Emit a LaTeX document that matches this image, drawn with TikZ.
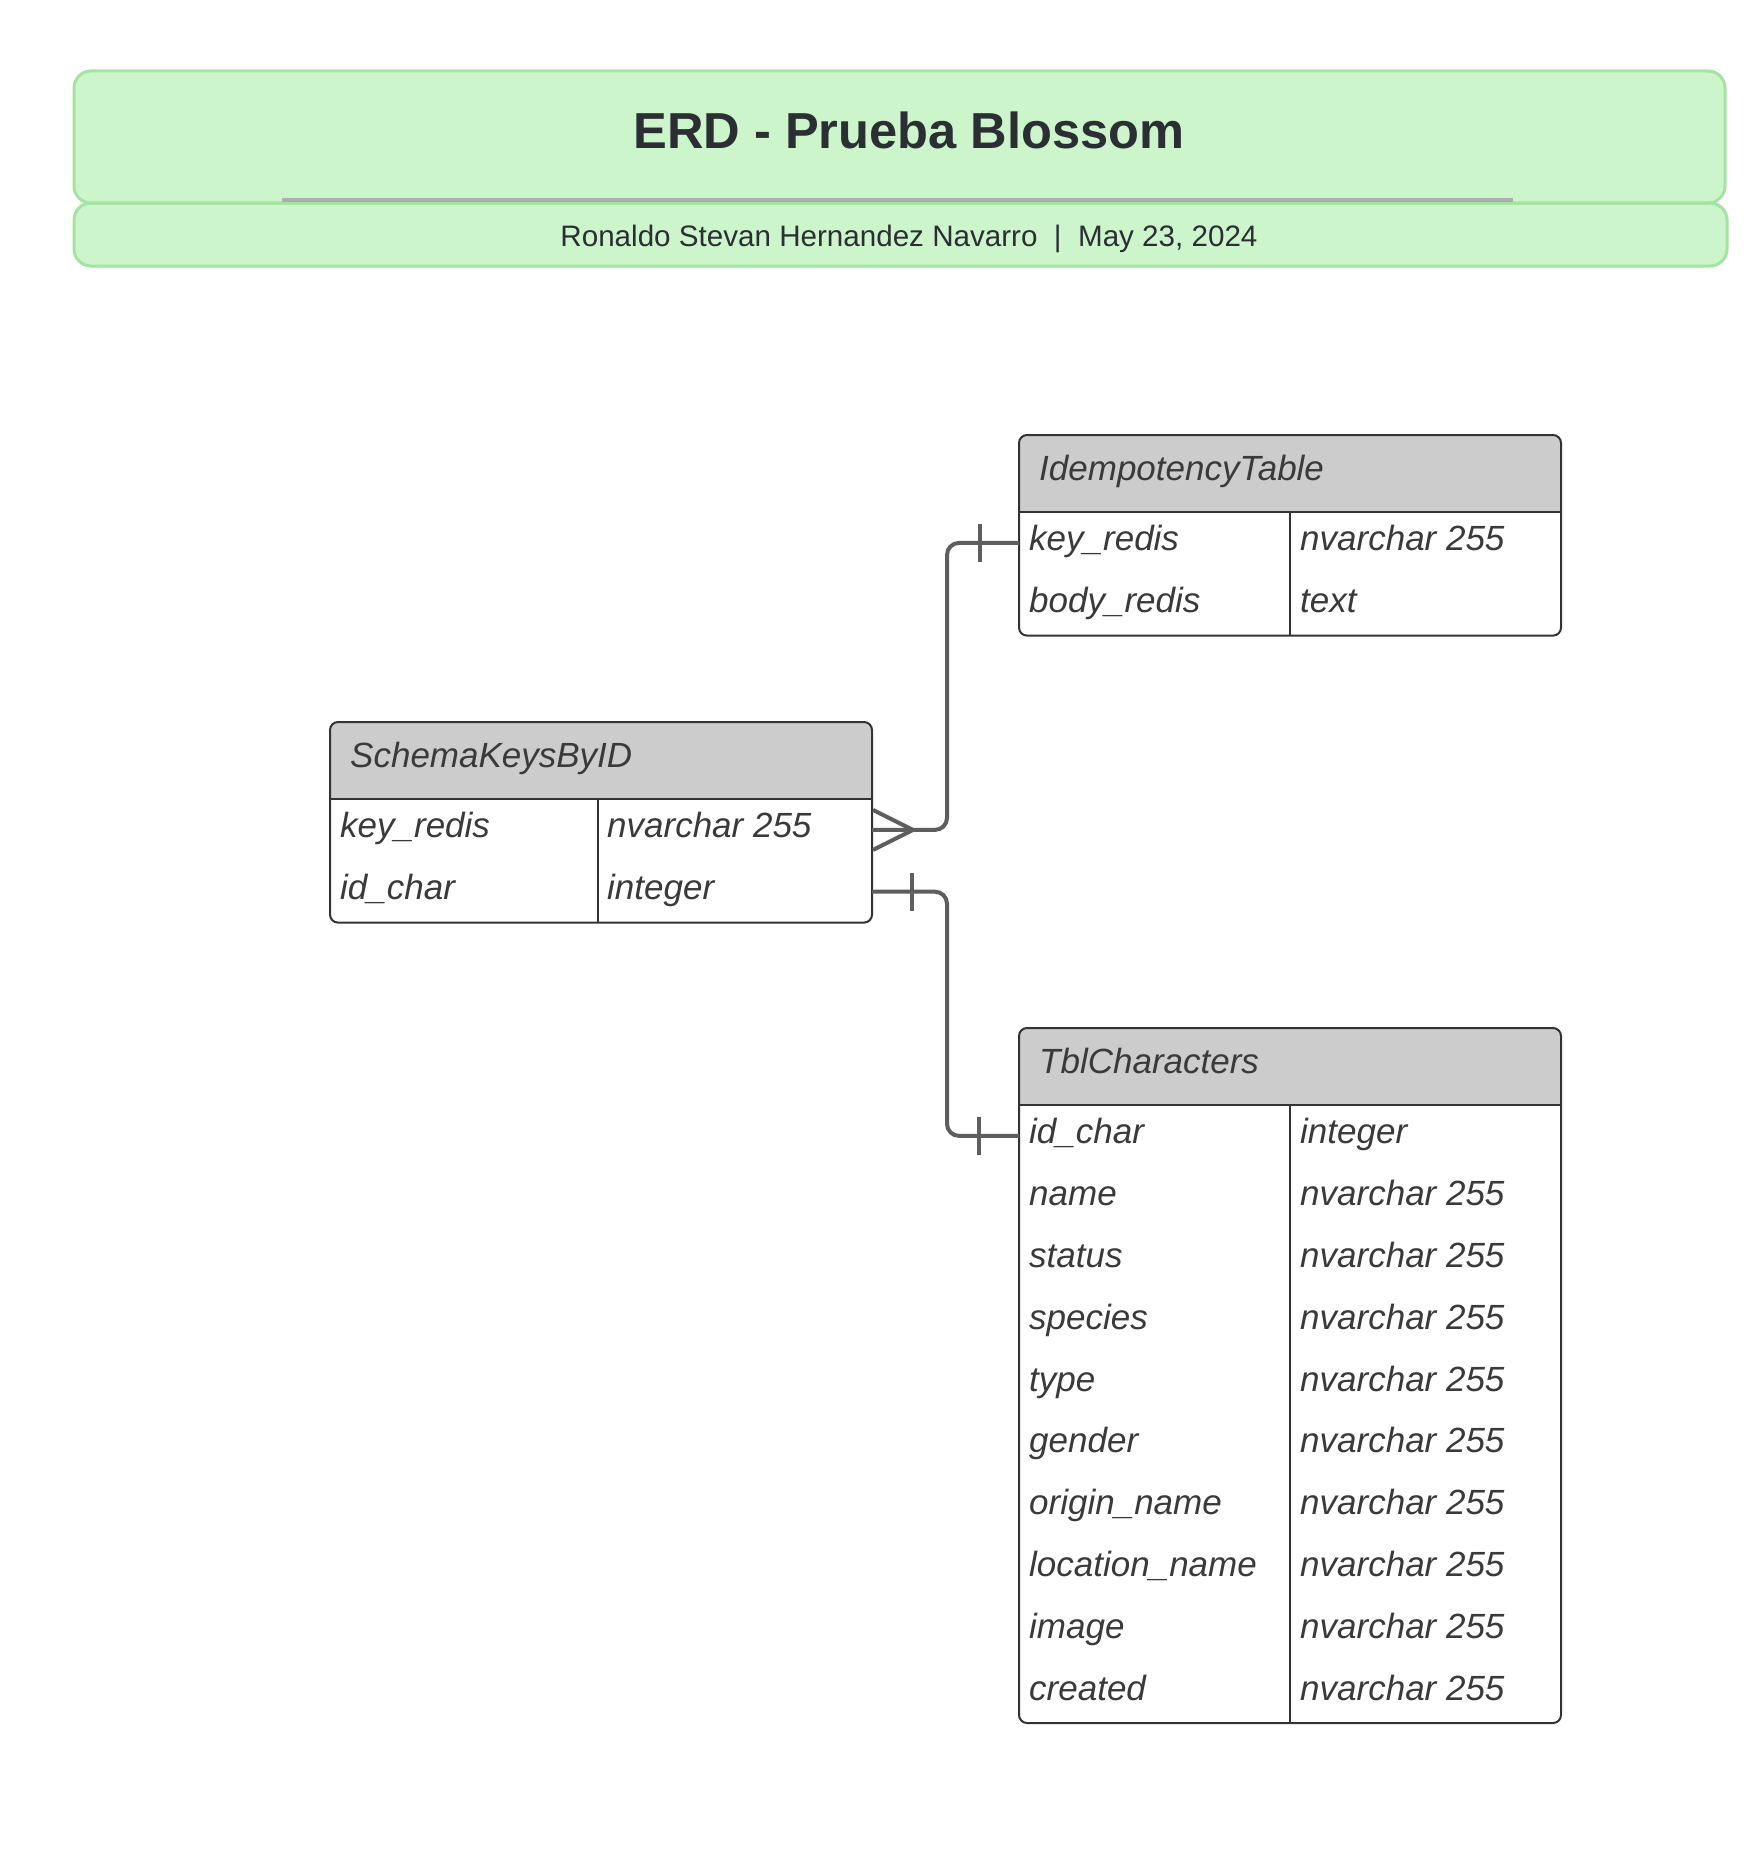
\documentclass[tikz,border=0pt]{standalone}
\usepackage{fontspec}
\setmainfont{Liberation Sans}
\usetikzlibrary{calc}
\definecolor{titlefill}{HTML}{CCF5CC}
\definecolor{titledraw}{HTML}{A3E4A0}
\definecolor{rulegray}{HTML}{ABADB1}
\definecolor{ink}{HTML}{2B2E33}
\definecolor{fieldink}{HTML}{3A3A3A}
\definecolor{hdrfill}{HTML}{CCCCCC}
\definecolor{tblborder}{HTML}{333333}
\definecolor{conn}{HTML}{5E5E5E}
\tikzset{
  bannerbox/.style={draw=titledraw, fill=titlefill, line width=3pt, rounded corners=17pt,
    rectangle, inner sep=0pt, outer sep=0pt, anchor=north west},
  titletxt/.style={font=\bfseries\fontsize{50.6}{60}\selectfont, text=ink, anchor=base, inner sep=0pt},
  subtxt/.style={font=\fontsize{29.6}{36}\selectfont, text=ink, anchor=base, inner sep=0pt},
  tblframe/.style={rectangle, fill=white, minimum width=542pt, inner sep=0pt, outer sep=0pt, anchor=north west},
  tblline/.style={draw=tblborder, line width=2pt},
  hdrtxt/.style={font=\itshape\fontsize{35}{42}\selectfont, text=fieldink, anchor=base west, inner sep=0pt},
  rowbox/.style={rectangle, minimum width=542pt, minimum height=61.8pt, inner sep=0pt, outer sep=0pt, anchor=north west},
  fieldtxt/.style={font=\itshape\fontsize{35}{42}\selectfont, text=fieldink, anchor=base west, inner sep=0pt},
  connline/.style={draw=conn, line width=4pt},
}
% #1 name, #2 left, #3 top, #4 rows, #5 title, #6 column split offset
\newcommand{\ErdFrame}[6]{%
  \node[tblframe, minimum height={77pt+#4*61.8pt}] (#1) at (#2,#3) {};
  \begin{scope}
    \clip[rounded corners=8pt] (#1.north west) rectangle (#1.south east);
    \fill[hdrfill] (#1.north west) rectangle ($(#1.north east)+(0,77)$);
  \end{scope}
  \draw[tblline] ($(#1.north west)+(0,77)$) -- ($(#1.north east)+(0,77)$);
  \draw[tblline] ($(#1.north west)+(#6,77)$) -- ($(#1.south west)+(#6,0)$);
  \draw[tblline, rounded corners=8pt] (#1.north west) rectangle (#1.south east);
  \node[hdrtxt] (#1hdr) at ($(#1.north west)+(20,45.5)$) {#5};
}
\begin{document}
\begin{tikzpicture}[x=1pt,y=-1pt]
\useasboundingbox (0,0) rectangle (1750,1854);
\fill[white] (0,0) rectangle (1750,1854);

% banner
\node[bannerbox, minimum width=1653pt, minimum height=63pt] (subbox) at (74,203) {};
\node[bannerbox, minimum width=1651pt, minimum height=132pt] (titlebox) at (74,71) {};
\draw[rulegray, line width=3.5pt] (282,200) -- (1513,200);
\node[titletxt] (titletext) at (909,149) {ERD - Prueba Blossom};
\node[subtxt] (subtext) at (909,246) {Ronaldo Stevan Hernandez Navarro~~|~~May 23, 2024};

% tables
\ErdFrame{idem}{1019}{435}{2}{IdempotencyTable}{271}
\ErdFrame{schema}{330}{722}{2}{SchemaKeysByID}{268}
\ErdFrame{tbl}{1019}{1028}{10}{TblCharacters}{271}

\foreach \k/\f/\v in {1/key\_redis/nvarchar 255, 2/body\_redis/text}{
  \node[rowbox] (i\k) at (1019,{512+(\k-1)*61.8}) {};
  \node[fieldtxt] (if\k) at ($(i\k.west)+(10,8)$) {\f};
  \node[fieldtxt] (iv\k) at ($(i\k.west)+(281,8)$) {\v};
}
\foreach \k/\f/\v in {1/key\_redis/nvarchar 255, 2/id\_char/integer}{
  \node[rowbox] (s\k) at (330,{799+(\k-1)*61.8}) {};
  \node[fieldtxt] (sf\k) at ($(s\k.west)+(10,8)$) {\f};
  \node[fieldtxt] (sv\k) at ($(s\k.west)+(277,8)$) {\v};
}
\foreach \k/\f/\v in {1/id\_char/integer, 2/name/nvarchar 255, 3/status/nvarchar 255,
  4/species/nvarchar 255, 5/type/nvarchar 255, 6/gender/nvarchar 255,
  7/origin\_name/nvarchar 255, 8/location\_name/nvarchar 255,
  9/image/nvarchar 255, 10/created/nvarchar 255}{
  \node[rowbox] (t\k) at (1019,{1105+(\k-1)*61.8}) {};
  \node[fieldtxt] (tf\k) at ($(t\k.west)+(10,8)$) {\f};
  \node[fieldtxt] (tv\k) at ($(t\k.west)+(281,8)$) {\v};
}

% connectors
\coordinate (bend) at (947,0);
\draw[connline, rounded corners=12pt] (s1.east) -- (s1.east -| bend) -- (i1.west -| bend) -- (i1.west);
\draw[connline, rounded corners=12pt] (s2.east) -- (s2.east -| bend) -- (t1.west -| bend) -- (t1.west);
% crow's foot (many) at SchemaKeysByID
\draw[connline] ($(s1.east)+(1,-20)$) -- ($(s1.east)+(41,0)$) -- ($(s1.east)+(1,20)$);
% one marks
\draw[connline] ($(i1.west)+(-39,-19)$) -- ($(i1.west)+(-39,19)$);
\draw[connline] ($(s2.east)+(40,-19)$) -- ($(s2.east)+(40,19)$);
\draw[connline] ($(t1.west)+(-40,-19)$) -- ($(t1.west)+(-40,19)$);
\end{tikzpicture}
\end{document}
